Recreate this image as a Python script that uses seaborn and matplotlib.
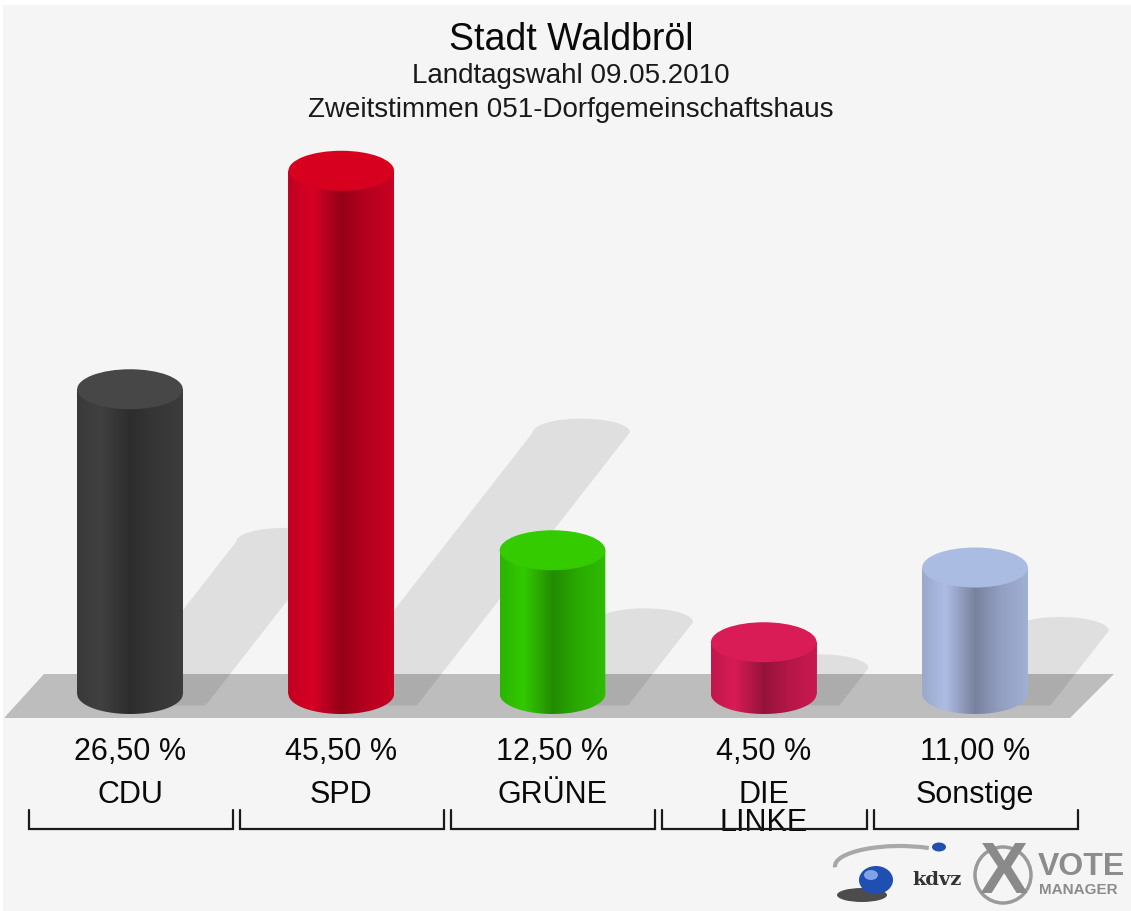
import numpy as np
import matplotlib
matplotlib.use("Agg")
import matplotlib.pyplot as plt
from matplotlib.patches import Ellipse, Polygon, Rectangle, Arc
from matplotlib.colors import to_rgb
import seaborn as sns

# chart data
parties = ["CDU", "SPD", "GRÜNE", "DIE\nLINKE", "Sonstige"]
shares = [26.50, 45.50, 12.50, 4.50, 11.00]
bar_colors = ["#3e3e3e", "#cf0023", "#30c200", "#cf1a52", "#a6b5db"]
cap_colors = ["#474747", "#d8001f", "#34cc00", "#d91c56", "#abbce3"]

title = "Stadt Waldbröl"
subtitle1 = "Landtagswahl 09.05.2010"
subtitle2 = "Zweitstimmen 051-Dorfgemeinschaftshaus"

# pixel layout helpers (axes fills the whole figure)
W, H = 1131, 911
X0, XS = 130, 211.25   # pixel of first category, pixels per category
Y0, YS = 694, 11.5     # pixel of zero line, pixels per percent point


def px(x):
    return (x - X0) / XS


def py(y):
    return (Y0 - y) / YS


sns.set_theme(style="white")
plt.rcParams["font.family"] = ["Liberation Sans", "DejaVu Sans"]

fig = plt.figure(figsize=(W / 100, H / 100), dpi=100, facecolor="#f5f5f5")
ax = fig.add_axes([0, 0, 1, 1])
ax.set_facecolor("#f5f5f5")

sns.barplot(x=parties, y=shares, hue=parties, palette=bar_colors,
            width=0.5, legend=False, ax=ax, zorder=2)
bars = sorted(ax.patches, key=lambda p: p.get_x())

# floor slab
floor = Polygon([(px(4), py(718)), (px(44), py(674)), (px(1114), py(674)),
                 (px(1070), py(718))], closed=True, facecolor="#bdbdbd",
                lw=0, zorder=1)
ax.add_patch(floor)

ry = 20 / YS
k = 0.0425
prof_t = [0, 0.22, 0.5, 0.75, 1]
prof_f = [0.93, 1.04, 0.72, 0.88, 0.97]
t = np.linspace(0, 1, 80)
f = np.interp(t, prof_t, prof_f)

for i, p in enumerate(bars):
    p.set_linewidth(0)
    x0, w, h = p.get_x(), p.get_width(), p.get_height()
    c = x0 + w / 2

    # slanted shadow behind the cylinder
    top = 0.5 * h
    L0, R0 = c - 0.06, c + 0.40
    yb = -1.0
    arc_a = np.linspace(0, np.pi, 30)
    cx = (L0 + R0) / 2 + k * top
    shadow = [(L0 + k * yb, yb), (R0 + k * yb, yb), (R0 + k * top, top)]
    shadow += [(cx + (R0 - L0) / 2 * np.cos(a), top + 1.2 * np.sin(a)) for a in arc_a]
    ax.add_patch(Polygon(shadow, closed=True, facecolor="black", alpha=0.085,
                         lw=0, zorder=1.5))

    # cylinder body with horizontal shading
    rgb = np.clip(np.array(to_rgb(bar_colors[i]))[None, :] * f[:, None], 0, 1)
    im = ax.imshow(rgb[None, :, :], extent=[x0, x0 + w, -ry, h], aspect="auto",
                   interpolation="bilinear", zorder=2.5)
    a = np.linspace(np.pi, 2 * np.pi, 40)
    body = [(x0, h), (x0, 0)] + [(c + w / 2 * np.cos(b), ry * np.sin(b)) for b in a] + [(x0 + w, h)]
    clip = Polygon(body, closed=True, transform=ax.transData)
    im.set_clip_path(clip)

    ax.add_patch(Ellipse((c, h), w, 2 * ry, facecolor=cap_colors[i], lw=0, zorder=3))

    # value + party label
    pct = f"{shares[i]:.2f} %".replace(".", ",")
    ax.text(c, py(760), pct, ha="center", va="baseline", fontsize=22, color="#0a0a0a")
    ax.text(c, py(780), parties[i], ha="center", va="top", fontsize=22,
            color="#0a0a0a", linespacing=0.9)

    # bracket under each label
    xl, xr = i - 0.48, i + 0.487
    ax.plot([xl, xl, xr, xr], [py(810), py(829), py(829), py(810)],
            color="#1a1a1a", lw=1.6, solid_joinstyle="miter", zorder=3)

# titles
ax.text(px(571), py(50), title, ha="center", va="baseline", fontsize=27, color="#0a0a0a")
ax.text(px(571), py(83), subtitle1, ha="center", va="baseline", fontsize=20, color="#1a1a1a")
ax.text(px(571), py(117), subtitle2, ha="center", va="baseline", fontsize=20, color="#1a1a1a")

# kdvz / VOTE MANAGER logo
ax.add_patch(Arc((px(900), py(866)), 130 / XS, 40 / YS, theta1=85, theta2=200,
                 color="#a8a8a8", lw=3, zorder=3))
ax.add_patch(Ellipse((px(862), py(895)), 50 / XS, 14 / YS, facecolor="#222222", alpha=0.8, lw=0, zorder=3))
ax.add_patch(Ellipse((px(876), py(880)), 34 / XS, 28 / YS, facecolor="#1f4fb0", lw=0, zorder=4))
ax.add_patch(Ellipse((px(871), py(875)), 14 / XS, 10 / YS, facecolor="#7fa3e6", lw=0, zorder=4))
ax.add_patch(Ellipse((px(939), py(847)), 14 / XS, 9 / YS, facecolor="#2050b0", lw=0, zorder=4))
ax.text(px(937), py(885), "kdvz", ha="center", va="baseline", fontsize=14,
        fontweight="bold", family="DejaVu Serif", color="#333333")
ax.add_patch(Ellipse((px(1003), py(875)), 56 / XS, 56 / YS, facecolor="none",
                     edgecolor="#9a9a9a", lw=2.5, zorder=3))
ax.text(px(1003), py(874), "X", ha="center", va="center", fontsize=52,
        fontweight="bold", color="#8a8a8a", zorder=4)
ax.text(px(1038), py(875), "VOTE", ha="left", va="baseline", fontsize=23,
        fontweight="bold", color="#8c8c8c")
ax.text(px(1039), py(894), "MANAGER", ha="left", va="baseline", fontsize=11,
        fontweight="bold", color="#8c8c8c")

# thin white frame at top and left
fig.patches.append(Rectangle((0, 1 - 5 / H), 1, 5 / H, transform=fig.transFigure,
                             facecolor="white", lw=0, zorder=10))
fig.patches.append(Rectangle((0, 0), 3 / W, 1, transform=fig.transFigure,
                             facecolor="white", lw=0, zorder=10))

ax.set_xlim(px(0), px(W))
ax.set_ylim(py(H), py(0))
ax.axis("off")

fig.savefig("out.png", dpi=100, facecolor=fig.get_facecolor())
